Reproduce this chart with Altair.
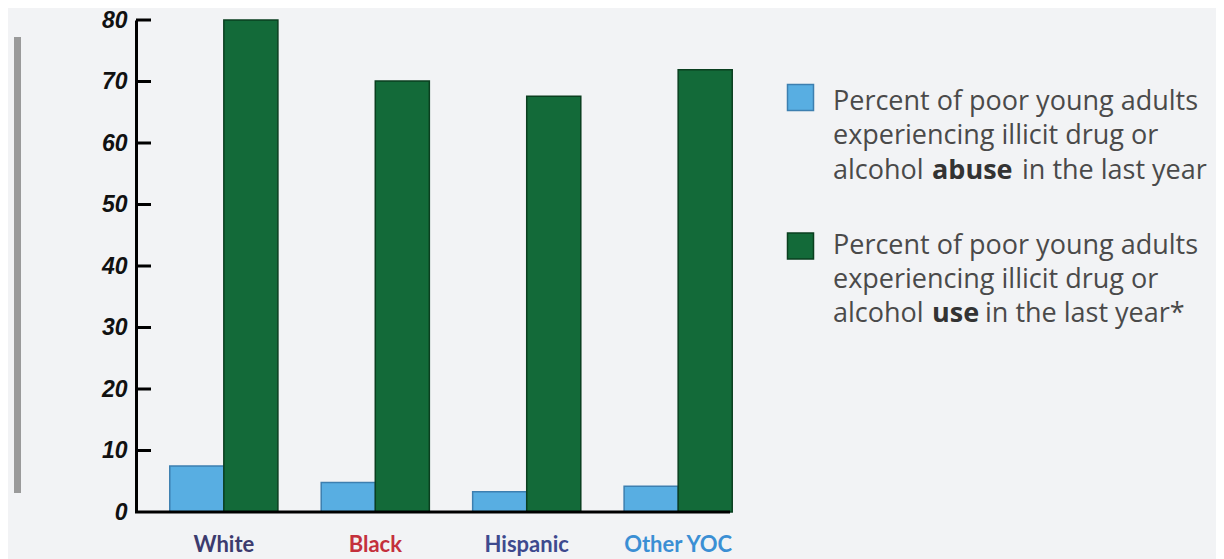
import altair as alt
import pandas as pd

# ---- data ----
groups = ["White", "Black", "Hispanic", "Other YOC"]
abuse_pct = [7.5, 4.8, 3.3, 4.2]
use_pct = [80.0, 70.1, 67.6, 71.9]
series = ["abuse", "use"]
y_ticks = [0, 10, 20, 30, 40, 50, 60, 70, 80]
group_colors = ["#3c3b6e", "#c4303c", "#3e4a8e", "#3b8fd4"]

legend_abuse = ["Percent of poor young adults", "experiencing illicit drug or",
                ["alcohol ", "abuse", " in the last year"]]
legend_use = ["Percent of poor young adults", "experiencing illicit drug or",
              ["alcohol ", "use", " in the last year*"]]

rows = []
for g, a, u in zip(groups, abuse_pct, use_pct):
    rows.append({"group": g, "series": "abuse", "value": a})
    rows.append({"group": g, "series": "use", "value": u})
df = pd.DataFrame(rows)
ticks_df = pd.DataFrame({"value": [t for t in y_ticks if t > 0]})
base_df = pd.DataFrame({"value": [0]})

BLUE, BLUE_S = "#58aee2", "#3d7fb0"
GREEN, GREEN_S = "#136a39", "#0a3f1f"

color_expr = " : ".join(
    f"datum.value == '{g}' ? '{c}'" for g, c in zip(groups[:-1], group_colors[:-1])
) + f" : '{group_colors[-1]}'"

bars = alt.Chart(df).mark_bar(strokeWidth=1.5).encode(
    x=alt.X("group:N", sort=groups,
            scale=alt.Scale(paddingInner=0.286, paddingOuter=0.223),
            axis=alt.Axis(title=None, domain=False, ticks=False, labelAngle=0,
                          labelFont="Lato", labelFontSize=22, labelFontWeight="bold",
                          labelPadding=22, labelColor={"expr": color_expr})),
    xOffset=alt.XOffset("series:N", sort=series),
    y=alt.Y("value:Q", scale=alt.Scale(domain=[0, 80], nice=False),
            axis=alt.Axis(values=y_ticks, title=None, ticks=False, grid=False,
                          domainColor="#000000", domainWidth=3,
                          labelFont="Liberation Sans", labelFontSize=23,
                          labelFontStyle="italic", labelFontWeight="bold",
                          labelColor="#111111", labelPadding=9)),
    color=alt.Color("series:N", scale=alt.Scale(domain=series, range=[BLUE, GREEN]), legend=None),
    stroke=alt.Stroke("series:N", scale=alt.Scale(domain=series, range=[BLUE_S, GREEN_S]), legend=None),
)

tick_marks = alt.Chart(ticks_df).mark_rule(color="#000000", strokeWidth=3).encode(
    y="value:Q", x=alt.value(0), x2=alt.value(15)
)
baseline = alt.Chart(base_df).mark_rule(color="#000000", strokeWidth=3).encode(
    y="value:Q", x=alt.value(-1), x2=alt.value(594)
)

one = alt.Data(values=[{}])
side_bar = alt.Chart(one).mark_rule(color="#9a9a9a", strokeWidth=7).encode(
    x=alt.value(-118.5), y=alt.value(17), y2=alt.value(473)
)

layers = [bars, tick_marks, baseline, side_bar]

TXT = dict(align="left", baseline="alphabetic", font="Open Sans", fontSize=27, color="#4a4a4a")


def legend_entry(lines, fill, stroke, sq_y, base_ys, seg_xs):
    out = [alt.Chart(one).mark_square(size=676, fill=fill, stroke=stroke, strokeWidth=1.5,
                                      opacity=1).encode(x=alt.value(664.5), y=alt.value(sq_y))]
    for line, by in zip(lines[:2], base_ys[:2]):
        out.append(alt.Chart(one).mark_text(text=line, **TXT).encode(
            x=alt.value(697), y=alt.value(by)))
    for i, (seg, sx) in enumerate(zip(lines[2], seg_xs)):
        kw = dict(TXT)
        if i == 1:
            kw.update(fontWeight="bold", color="#333333")
        out.append(alt.Chart(one).mark_text(text=seg.strip(), **kw).encode(
            x=alt.value(sx), y=alt.value(base_ys[2])))
    return out


layers += legend_entry(legend_abuse, BLUE, BLUE_S, 77.5, [90, 124, 159], [697, 796, 886])
layers += legend_entry(legend_use, GREEN, GREEN_S, 226, [234, 268, 302], [697, 796, 849])

chart = alt.layer(*layers).properties(
    width=630, height=492,
    autosize=alt.AutoSizeParams(type="none"),
    padding={"left": 128, "top": 12, "right": 450, "bottom": 47},
    background="#f2f3f5",
).configure_view(stroke=None)

chart.save("out.html", embed_options={"renderer": "svg", "actions": False})
